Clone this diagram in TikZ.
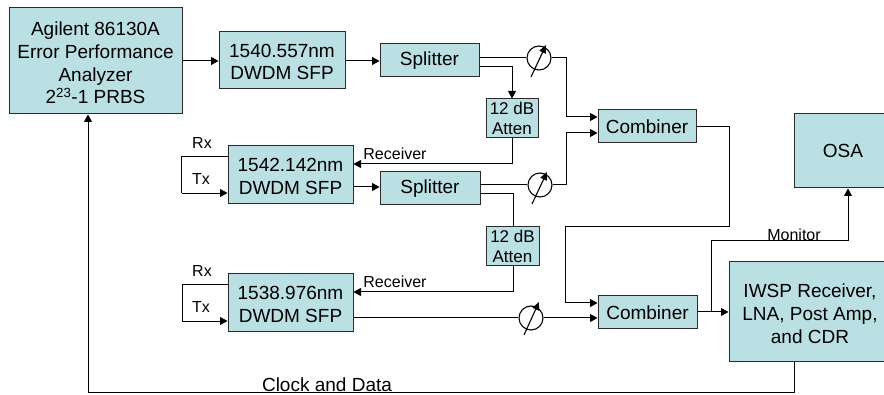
\documentclass[tikz,border=0pt]{standalone}
\usepackage{fontspec}
\setmainfont{Liberation Sans}
\usetikzlibrary{arrows.meta}
\definecolor{boxfill}{HTML}{BBE0E3}
\definecolor{boxline}{HTML}{2A2A2A}
\tikzset{
  x=1pt,y=-1pt,
  boxn/.style={draw=boxline,line width=1pt,fill=boxfill,align=center,inner sep=0pt,font=\fontsize{19}{22.7}\selectfont},
  attbox/.style={boxn,font=\fontsize{17}{20}\selectfont},
  wire/.style={draw=black,line width=1pt},
  thin wire/.style={draw=black,line width=0.8pt},
  arr/.style={wire,-{Triangle[length=7.5pt,width=8pt]}},
  thin arr/.style={thin wire,-{Triangle[length=7.5pt,width=8pt]}},
  lab/.style={inner sep=0pt,font=\fontsize{16}{18}\selectfont},
  biglab/.style={inner sep=0pt,font=\fontsize{19}{21}\selectfont},
  shifter/.style={circle,draw=black,line width=1.1pt,minimum size=24pt,inner sep=0pt},
  needle/.style={draw=black,line width=1.1pt,-{Triangle[length=8pt,width=7pt]}}
}
\begin{document}
\begin{tikzpicture}
\useasboundingbox (0,0) rectangle (884,395);
\clip (0,0) rectangle (884,395);
\node[boxn,minimum width=173pt,minimum height=106pt] (agilent) at (95.5,61) {\rule{0pt}{18pt}Agilent 86130A\\Error Performance\\Analyzer\\2\textsuperscript{23}-1 PRBS};
\node[boxn,minimum width=126pt,minimum height=57pt] (sfpa) at (282,60.5) {\rule{0pt}{16pt}1540.557nm\\DWDM SFP};
\node[boxn,minimum width=99pt,minimum height=33pt] (spla) at (429.5,60.5) {Splitter};
\node[attbox,minimum width=52pt,minimum height=39pt] (atta) at (512,118.5) {12 dB\\Atten};
\node[boxn,minimum width=98pt,minimum height=33pt] (coma) at (647,126.5) {Combiner};
\node[boxn,minimum width=125pt,minimum height=58pt] (sfpb) at (290.5,175) {\rule{0pt}{16pt}1542.142nm\\DWDM SFP};
\node[boxn,minimum width=100pt,minimum height=33pt] (splb) at (430,188.5) {Splitter};
\node[attbox,minimum width=53pt,minimum height=39pt] (attb) at (512.5,246.5) {12 dB\\Atten};
\node[boxn,minimum width=125pt,minimum height=58pt] (sfpc) at (290.5,303) {\rule{0pt}{16pt}1538.976nm\\DWDM SFP};
\node[boxn,minimum width=99pt,minimum height=33pt] (comb) at (647.5,312.5) {Combiner};
\node[boxn,minimum width=162pt,minimum height=100pt] (iwsp) at (810,312) {\rule{0pt}{17pt}IWSP Receiver,\\LNA, Post Amp,\\and CDR};
\node[boxn,minimum width=98pt,minimum height=74pt] (osa) at (843,151) {OSA};
\node[shifter] (pa) at (539,58) {};
\node[shifter] (pb) at (540,185) {};
\node[shifter] (pc) at (531,318) {};
\coordinate (jb) at (711,312);
% main path
\draw[arr] (agilent.east |- 0,61) -- (sfpa.west |- 0,61);
\draw[arr] (sfpa.east |- 0,61) -- (spla.west |- 0,61);
\draw[wire] (spla.east |- 0,58) -- (pa.west |- 0,58);
\draw[arr] (pa.east) -- (566,58) -- (566,117) -- (coma.west |- 0,117);
\draw[arr] (spla.east |- 0,67) -- (512,67) -- (atta.north);
\draw[arr] (atta.south) -- (512,164) -- (sfpb.east |- 0,164);
\draw[arr] (sfpb.east |- 0,187) -- (splb.west |- 0,187);
\draw[wire] (splb.east |- 0,185) -- (pb.west);
\draw[arr] (pb.east) -- (566,185) -- (566,133) -- (coma.west |- 0,133);
\draw[wire] (splb.east |- 0,194) -- (513,194) -- (attb.north -| 513,0);
\draw[arr] (attb.south -| 513,0) -- (513,292) -- (sfpc.east |- 0,292);
\draw[wire] (coma.east) -- (729,126.5) -- (729,227) -- (565.5,227) -- (565.5,303);
\draw[arr] (565.5,303) -- (comb.west |- 0,303);
\draw[wire] (sfpc.east |- 0,318) -- (pc.west);
\draw[arr] (pc.east) -- (comb.west |- 0,318);
\draw[arr] (comb.east |- 0,312) -- (iwsp.west |- 0,312);
\draw[arr] (jb) -- (711,241) -- (848,241) -- (osa.south -| 848,0);
\draw[arr] (iwsp.south -| 794,0) -- (794,393) -- (88,393) -- (agilent.south -| 88,0);
% loopbacks
\draw[thin wire] (sfpb.west |- 0,156) -- (181.5,156) -- (181.5,193);
\draw[thin arr] (181.5,193) -- (sfpb.west |- 0,193);
\draw[thin wire] (sfpc.west |- 0,284) -- (182,284) -- (182,321);
\draw[thin arr] (182,321) -- (sfpc.west |- 0,321);
% shifter needles
\draw[needle] (531,77) -- (546,45);
\draw[needle] (532,204) -- (547,172);
\draw[needle] (524,335) -- (539,302);
% labels
\node[lab] (rxa) at (202,143) {Rx};
\node[lab] (txa) at (201,179) {Tx};
\node[lab] (rxb) at (202,271) {Rx};
\node[lab] (txb) at (201,307) {Tx};
\node[lab] (reca) at (395,154) {Receiver};
\node[lab] (recb) at (395,282) {Receiver};
\node[lab] (mon) at (794,235) {Monitor};
\node[biglab] (clk) at (327,385) {Clock and Data};
\end{tikzpicture}
\end{document}
